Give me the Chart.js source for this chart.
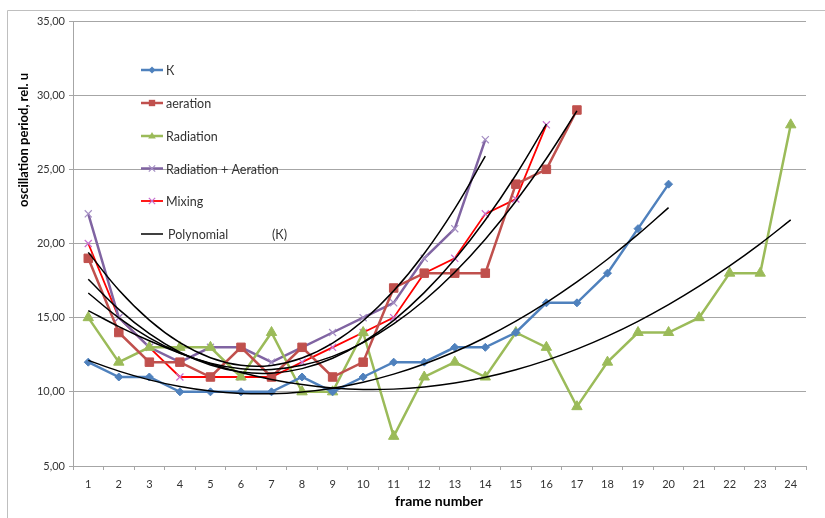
<!DOCTYPE html>
<html>
<head>
<meta charset="utf-8">
<script src="https://cdn.jsdelivr.net/npm/chart.js@4.4.1/dist/chart.umd.min.js"></script>
<style>
  html, body { margin: 0; padding: 0; background: #fff; }
  #wrap { width: 825px; height: 518px; position: relative; }
</style>
</head>
<body>
<div id="wrap"><canvas id="chart" width="825" height="518"></canvas></div>
<script>
// frame numbers on the x axis
const frames = ['1','2','3','4','5','6','7','8','9','10','11','12','13','14','15','16','17','18','19','20','21','22','23','24'];
// oscillation period per frame
const seriesK = [12, 11, 11, 10, 10, 10, 10, 11, 10, 11, 12, 12, 13, 13, 14, 16, 16, 18, 21, 24];
const seriesAeration = [19, 14, 12, 12, 11, 13, 11, 13, 11, 12, 17, 18, 18, 18, 24, 25, 29];
const seriesRadiation = [15, 12, 13, 13, 13, 11, 14, 10, 10, 14, 7, 11, 12, 11, 14, 13, 9, 12, 14, 14, 15, 18, 18, 28];
const seriesRadAer = [22, 15, 13, 12, 13, 13, 12, 13, 14, 15, 16, 19, 21, 27];
const seriesMixing = [20, 15, 13, 11, 11, 11, 11, 12, 13, 14, 15, 18, 19, 22, 23, 28];
const yTicks = [5, 10, 15, 20, 25, 30, 35];

const FONT = 'Lato, "Open Sans", sans-serif';
const TEXT = '#333333';
const GRID = '#a6a6a6';

// second order polynomial trend (least squares), like the spreadsheet trendline
function polyTrend(values) {
  let s = [0, 0, 0, 0, 0], t = [0, 0, 0];
  values.forEach((y, i) => {
    const x = i + 1;
    for (let k = 0; k < 5; k++) s[k] += Math.pow(x, k);
    for (let k = 0; k < 3; k++) t[k] += y * Math.pow(x, k);
  });
  const m = [[s[0], s[1], s[2], t[0]], [s[1], s[2], s[3], t[1]], [s[2], s[3], s[4], t[2]]];
  for (let c = 0; c < 3; c++) {
    for (let r = c + 1; r < 3; r++) {
      const f = m[r][c] / m[c][c];
      for (let k = c; k < 4; k++) m[r][k] -= f * m[c][k];
    }
  }
  const a = [0, 0, 0];
  for (let r = 2; r >= 0; r--) {
    let v = m[r][3];
    for (let k = r + 1; k < 3; k++) v -= m[r][k] * a[k];
    a[r] = v / m[r][r];
  }
  return values.map((_, i) => a[0] + a[1] * (i + 1) + a[2] * (i + 1) * (i + 1));
}

const trend = (values) => ({
  data: polyTrend(values),
  borderColor: '#000',
  borderWidth: 1.5,
  pointRadius: 0,
  tension: 0.4,
  order: 0
});

const series = [
  { label: 'К', data: seriesK, color: '#4f81bd', marker: '#4f81bd', style: 'rectRot', r: 4, w: 2.5 },
  { label: 'aeration', data: seriesAeration, color: '#c0504d', marker: '#c0504d', style: 'rect', r: 6, w: 2.5 },
  { label: 'Radiation', data: seriesRadiation, color: '#9bbb59', marker: '#9bbb59', style: 'triangle', r: 6, w: 2.5 },
  { label: 'Radiation + Aeration', data: seriesRadAer, color: '#8064a2', marker: '#a58fc4', style: 'crossRot', r: 5, w: 2.5 },
  { label: 'Mixing', data: seriesMixing, color: '#ff0000', marker: '#c86fd0', style: 'crossRot', r: 5, w: 1.8 }
];

const datasets = [];
series.forEach((s) => datasets.push(trend(s.data)));
series.forEach((s) => datasets.push({
  label: s.label,
  data: s.data,
  borderColor: s.color,
  borderWidth: s.w,
  backgroundColor: s.marker,
  pointStyle: s.style,
  pointRadius: s.r,
  pointBorderColor: s.marker,
  pointBackgroundColor: s.marker,
  pointBorderWidth: s.style === 'crossRot' ? 1.2 : 1,
  tension: 0,
  order: 1
}));

function marker(ctx, style, x, y, r, color) {
  ctx.save();
  ctx.fillStyle = color;
  ctx.strokeStyle = color;
  ctx.lineWidth = 1.2;
  ctx.beginPath();
  if (style === 'rectRot') {
    ctx.moveTo(x, y - r); ctx.lineTo(x + r, y); ctx.lineTo(x, y + r); ctx.lineTo(x - r, y); ctx.closePath(); ctx.fill();
  } else if (style === 'rect') {
    const h = r * Math.SQRT1_2;
    ctx.rect(x - h, y - h, 2 * h, 2 * h); ctx.fill();
  } else if (style === 'triangle') {
    ctx.moveTo(x, y - r * 0.9); ctx.lineTo(x + r * 0.85, y + r * 0.55); ctx.lineTo(x - r * 0.85, y + r * 0.55); ctx.closePath(); ctx.fill();
  } else if (style === 'crossRot') {
    const d = r * Math.SQRT1_2;
    ctx.moveTo(x - d, y - d); ctx.lineTo(x + d, y + d); ctx.moveTo(x + d, y - d); ctx.lineTo(x - d, y + d); ctx.stroke();
  }
  ctx.restore();
}

const decorations = {
  id: 'decorations',
  afterDraw(chart) {
    const ctx = chart.ctx;
    ctx.save();
    // outer frame
    ctx.strokeStyle = '#bfbfbf';
    ctx.lineWidth = 1;
    ctx.beginPath();
    ctx.moveTo(7.5, 518); ctx.lineTo(7.5, 10.5); ctx.lineTo(825, 10.5);
    ctx.stroke();

    // axis titles
    ctx.fillStyle = '#000';
    ctx.font = 'bold 13px ' + FONT;
    ctx.textAlign = 'center';
    ctx.textBaseline = 'middle';
    ctx.save();
    ctx.translate(24, 140);
    ctx.rotate(-Math.PI / 2);
    ctx.fillText('oscillation period, rel. u', 0, 0);
    ctx.restore();
    ctx.font = 'bold 14px ' + FONT;
    ctx.fillText('frame number', 439, 501);

    // legend inside the plot
    const rows = [70, 103, 136, 168.5, 201, 234];
    ctx.font = '12.5px ' + FONT;
    ctx.textAlign = 'left';
    series.forEach((s, i) => {
      const y = rows[i];
      ctx.strokeStyle = s.color;
      ctx.lineWidth = s.w;
      ctx.beginPath(); ctx.moveTo(141, y); ctx.lineTo(163, y); ctx.stroke();
      marker(ctx, s.style, 152, y, s.style === 'rectRot' ? 3.5 : 4.5, s.marker);
      ctx.fillStyle = TEXT;
      ctx.fillText(s.label, 166, y + 1);
    });
    const py = rows[5];
    ctx.strokeStyle = '#000';
    ctx.lineWidth = 1.5;
    ctx.beginPath(); ctx.moveTo(141, py); ctx.lineTo(163, py); ctx.stroke();
    ctx.fillStyle = TEXT;
    ctx.fillText('Polynomial', 168, py + 1);
    ctx.fillText('(К)', 272, py + 1);
    ctx.restore();
  }
};

new Chart(document.getElementById('chart'), {
  type: 'line',
  data: { labels: frames, datasets: datasets },
  options: {
    responsive: false,
    animation: false,
    devicePixelRatio: 1,
    layout: { padding: { top: 21, right: 19, left: 0, bottom: 0 } },
    plugins: { legend: { display: false }, tooltip: { enabled: false } },
    scales: {
      x: {
        type: 'category',
        offset: true,
        grid: { offset: true, drawOnChartArea: false, tickLength: 4, color: GRID },
        border: { color: GRID },
        ticks: { font: { family: FONT, size: 11 }, color: TEXT, padding: 8, maxRotation: 0, autoSkip: false },
        afterFit(scale) { scale.height = 52; }
      },
      y: {
        min: 5,
        max: 35,
        afterBuildTicks(scale) { scale.ticks = yTicks.map((v) => ({ value: v })); },
        grid: { color: GRID, tickLength: 4 },
        border: { color: GRID },
        ticks: {
          font: { family: FONT, size: 11 },
          color: TEXT,
          padding: 4,
          callback: (v) => v.toFixed(2).replace('.', ',')
        },
        afterFit(scale) { scale.width = 73; }
      }
    }
  },
  plugins: [decorations]
});
</script>
</body>
</html>
